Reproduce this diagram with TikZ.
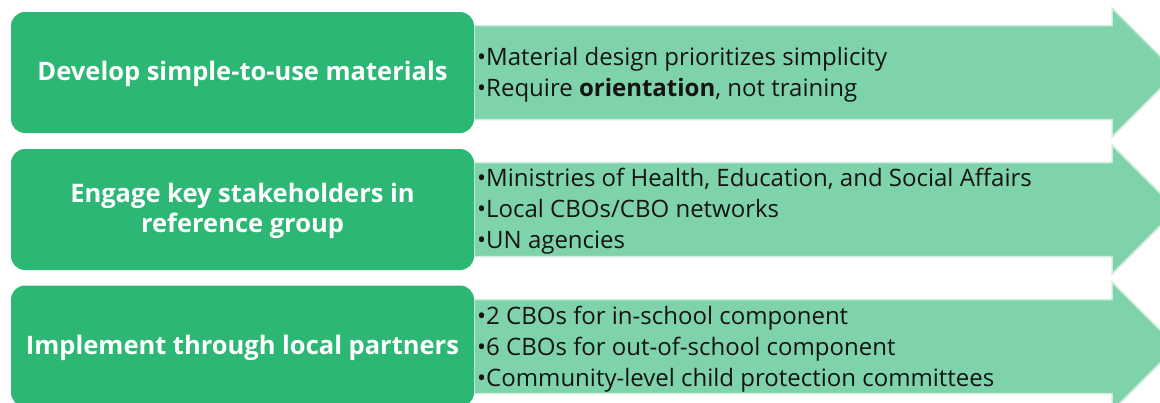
\documentclass[tikz,border=0pt]{standalone}
\usepackage{fontspec}
\setmainfont{Open Sans}
\usetikzlibrary{positioning}
\definecolor{boxgreen}{RGB}{45,183,117}
\definecolor{arrowgreen}{RGB}{127,211,170}
\definecolor{arrowedge}{RGB}{208,237,220}
\definecolor{listtext}{RGB}{20,20,20}
\tikzset{
    stepbox/.style={fill=boxgreen, rounded corners=14pt, minimum width=463pt, minimum height=121pt,
        text=white, font=\bfseries\fontsize{25.5}{30}\selectfont, align=center, inner sep=0pt},
    pointlist/.style={anchor=west, align=left, inner sep=0pt, text=listtext,
        font=\fontsize{24}{31}\selectfont},
    bandarrow/.style={fill=arrowgreen, draw=arrowedge, line width=1.5pt}
}
\begin{document}
\begin{tikzpicture}[x=1pt, y=-1pt]
            \useasboundingbox (0, 0) rectangle (1160, 402);
            \clip (0, 0) rectangle (1160, 402);

            %%draw the arrows
            \draw[bandarrow] (474, 25.5) -- (1112, 25.5) -- (1112, 8) -- (1176.5, 72.5)
                -- (1112, 137) -- (1112, 119.5) -- (474, 119.5) -- cycle;
            \draw[bandarrow] (474, 162.5) -- (1112, 162.5) -- (1112, 145) -- (1176.5, 209.5)
                -- (1112, 274) -- (1112, 256.5) -- (474, 256.5) -- cycle;
            \draw[bandarrow] (474, 299.5) -- (1112, 299.5) -- (1112, 282) -- (1176.5, 346.5)
                -- (1112, 411) -- (1112, 393.5) -- (474, 393.5) -- cycle;

            %%draw the boxes
            \node[stepbox] (develop) at (242.5, 72.5){};
                \node[text=white, font=\bfseries\fontsize{25.5}{30}\selectfont] (developtext) at (242.5, 74){Develop simple-to-use materials};
            \node[stepbox] (engage) at (242.5, 209.5){};
                \node[text=white, align=center, font=\bfseries\fontsize{25.5}{30}\selectfont] (engagetext) at (242.5, 211){Engage key stakeholders in\\reference group};
            \node[stepbox] (implement) at (242.5, 346){};
                \node[text=white, font=\bfseries\fontsize{25.5}{30}\selectfont] (implementtext) at (242.5, 348){Implement through local partners};

            %%the lists
            \node[pointlist] (materials) at (477, 75){\textbullet Material design prioritizes simplicity\\
                \textbullet Require \textbf{orientation}, not training};
            \node[pointlist] (stakeholders) at (477, 211.5){\textbullet Ministries of Health, Education, and Social Affairs\\
                \textbullet Local CBOs/CBO networks\\
                \textbullet UN agencies};
            \node[pointlist] (partners) at (477, 349){\textbullet 2 CBOs for in-school component\\
                \textbullet 6 CBOs for out-of-school component\\
                \textbullet Community-level child protection committees};
\end{tikzpicture}
\end{document}
